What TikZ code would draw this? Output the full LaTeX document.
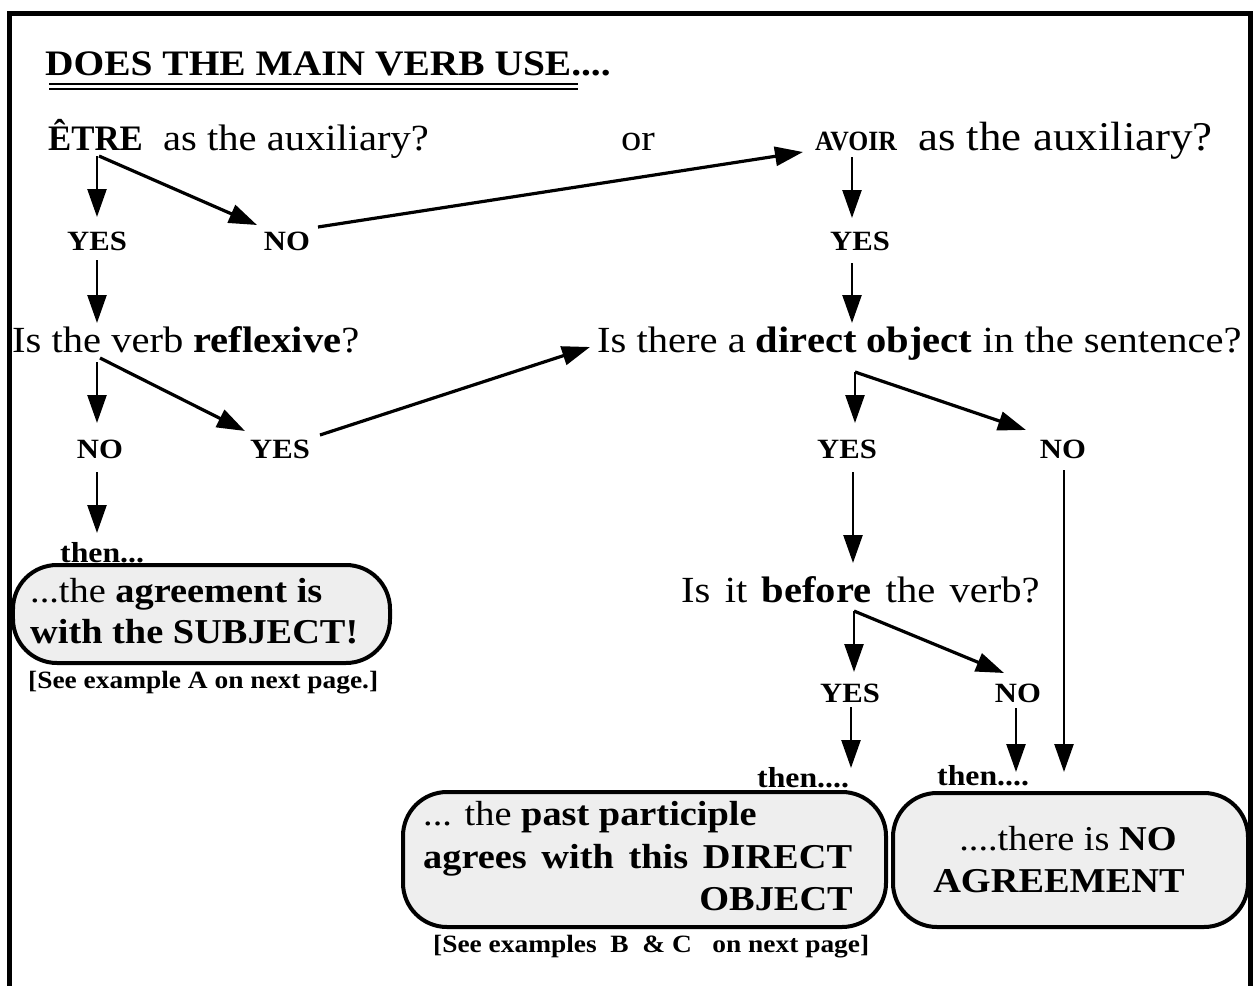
\documentclass[tikz,border=0pt]{standalone}
\usepackage{fontspec}
\setmainfont{Liberation Serif}[FakeStretch=1.1]
\newfontfamily\narrowserif{Liberation Serif}[FakeStretch=0.97]
\newfontfamily\condserif{Liberation Serif}[FakeStretch=0.92]
\usetikzlibrary{arrows.meta}
\definecolor{boxgray}{HTML}{EEEEEE}
\newcommand\fsbody{\fontsize{37}{44}\selectfont}
\newcommand\fsetre{\narrowserif\fontsize{36}{42}\selectfont\bfseries}
\newcommand\fstitle{\fontsize{36}{43}\selectfont\bfseries}
\newcommand\fslbl{\fontsize{28}{34}\selectfont\bfseries}
\newcommand\fsthen{\fontsize{29}{35}\selectfont\bfseries}
\newcommand\fsavoir{\condserif\fontsize{28}{33}\selectfont\bfseries}
\newcommand\fsright{\fontsize{41}{47}\selectfont}
\newcommand\fsbox{\fontsize{35}{42}\selectfont}
\newcommand\fsnote{\fontsize{25}{30}\selectfont\bfseries}
\newcommand\wsp[1]{\hspace{#1em}}
\begin{document}
\begin{tikzpicture}[x=1bp,y=-1bp,
  txt/.style={inner sep=0pt, anchor=base west, font=\fsbody},
  lbl/.style={inner sep=0pt, anchor=base, font=\fslbl},
  thentxt/.style={inner sep=0pt, anchor=base west, font=\fsthen},
  boxtxt/.style={inner sep=0pt, anchor=base west, font=\fsbox},
  notetxt/.style={inner sep=0pt, anchor=base west, font=\fsnote},
  arr/.style={line width=2.5bp, -{Triangle[length=28bp,width=19bp]}},
  darr/.style={arr, line width=3.2bp},
  box/.style={draw, line width=4bp, fill=boxgray, rounded corners=44bp, inner sep=0pt}]
\useasboundingbox (0,0) rectangle (1253,986);
% frame
\draw[line width=5bp] (9,986) -- (9,13) -- (1250,13) -- (1250,986);
% title
\node[txt, font=\fstitle] (title) at (45,75) {DOES THE MAIN VERB USE....};
\draw[line width=2.6bp] (49,84) coordinate (ul1a) -- (578,84) coordinate (ul1b);
\draw[line width=2bp] (49,89) coordinate (ul2a) -- (578,89) coordinate (ul2b);
% row 1
\node[txt] (etre) at (48,150) {{\fsetre ÊTRE}};
\node[txt] (etreq) at (163,150) {as the auxiliary?};
\node[txt, anchor=base] (or) at (638,150) {or};
\node[txt, font=\fsavoir] (avoir) at (815,150) {AVOIR};
\node[txt, anchor=base east, font=\fsright] (avoirq) at (1213,150) {as the auxiliary?};
% row 2
\node[lbl] (yes1) at (97,250) {YES};
\node[lbl] (no1) at (287,250) {NO};
\node[lbl] (yes2) at (860,250) {YES};
% row 3
\node[txt] (refl) at (12,352) {Is the verb \textbf{reflexive}?};
\node[txt] (dobj) at (597,352) {Is there a \textbf{direct object} in the sentence?};
% row 4
\node[lbl] (no2) at (100,458) {NO};
\node[lbl] (yes3) at (280,458) {YES};
\node[lbl] (yes4) at (847,458) {YES};
\node[lbl] (no3) at (1063,458) {NO};
% left result
\node[thentxt] (then1) at (60,562) {then...};
\node[box, minimum width=377bp, minimum height=98bp] (box1) at (201.5,614) {};
\node[boxtxt] (b1l1) at (30,602) {...the \textbf{agreement is}};
\node[boxtxt] (b1l2) at (30,643) {\textbf{with the SUBJECT!}};
\node[notetxt] (note1) at (28,688) {[See example A on next page.]};
% before
\node[txt] (before) at (681,602) {Is\wsp{0.39}it\wsp{0.39}\textbf{before}\wsp{0.39}the\wsp{0.39}verb?};
\node[lbl] (yes5) at (850,702) {YES};
\node[lbl] (no4) at (1018,702) {NO};
\node[thentxt] (then2) at (757,787) {then....};
\node[thentxt] (then3) at (937,785) {then....};
% box 2
\node[box, minimum width=483bp, minimum height=135bp] (box2) at (644.5,859.5) {};
\node[boxtxt] (b2l1) at (423,825) {... the \textbf{past participle}};
\node[boxtxt] (b2l2) at (423,868) {\textbf{agrees\wsp{0.42}with\wsp{0.42}this\wsp{0.42}DIRECT}};
\node[boxtxt, anchor=base east] (b2l3) at (853,910) {\textbf{OBJECT}};
\node[notetxt] (note2) at (433,952) {[See examples\ \ B\ \ \& C\ \ \ on next page]};
% box 3
\node[box, minimum width=355bp, minimum height=134bp] (box3) at (1070.5,860) {};
\node[boxtxt, anchor=base] (b3l1) at (1068,850) {....there is \textbf{NO}};
\node[boxtxt, anchor=base] (b3l2) at (1059,892) {\textbf{AGREEMENT}};
% connector coordinates
\coordinate (etreS) at (97,156);
\coordinate (etreD) at (99,156);
\coordinate (yes1T) at (97,217);
\coordinate (no1T) at (257,225);
\coordinate (no1R) at (318,227);
\coordinate (avoirT) at (803,152);
\coordinate (avoirS) at (852,157);
\coordinate (yes2T) at (852,218);
\coordinate (yes2S) at (852,263);
\coordinate (dobjT) at (852,323);
\coordinate (yes1S) at (97,260);
\coordinate (reflT) at (97,323);
\coordinate (reflS) at (97,362);
\coordinate (reflD) at (100,358);
\coordinate (no2T) at (97,423);
\coordinate (yes3T) at (245,431);
\coordinate (yes3R) at (320,435);
\coordinate (dobjL) at (590,347);
\coordinate (dobjS) at (855,372);
\coordinate (yes4T) at (855,423);
\coordinate (no3T) at (1026,430);
\coordinate (yes4S) at (853,472);
\coordinate (beforeT) at (853,563);
\coordinate (no3S) at (1064,470);
\coordinate (box3T) at (1064,772);
\coordinate (beforeS) at (854,611);
\coordinate (yes5T) at (854,672);
\coordinate (no4T) at (1004,673);
\coordinate (yes5S) at (851,707);
\coordinate (then2T) at (851,768);
\coordinate (no4S) at (1016,708);
\coordinate (then3T) at (1016,772);
\coordinate (no2S) at (97,472);
\coordinate (then1T) at (97,533);
% connectors
\draw[arr] (etreS) -- (yes1T);
\draw[darr] (etreD) -- (no1T);
\draw[darr] (no1R) -- (avoirT);
\draw[arr] (avoirS) -- (yes2T);
\draw[arr] (yes2S) -- (dobjT);
\draw[arr] (yes1S) -- (reflT);
\draw[arr] (reflS) -- (no2T);
\draw[darr] (reflD) -- (yes3T);
\draw[darr] (yes3R) -- (dobjL);
\draw[arr] (dobjS) -- (yes4T);
\draw[darr] (dobjS) -- (no3T);
\draw[arr] (yes4S) -- (beforeT);
\draw[arr] (no3S) -- (box3T);
\draw[arr] (beforeS) -- (yes5T);
\draw[darr] (beforeS) -- (no4T);
\draw[arr] (yes5S) -- (then2T);
\draw[arr] (no4S) -- (then3T);
\draw[arr] (no2S) -- (then1T);
\end{tikzpicture}
\end{document}
